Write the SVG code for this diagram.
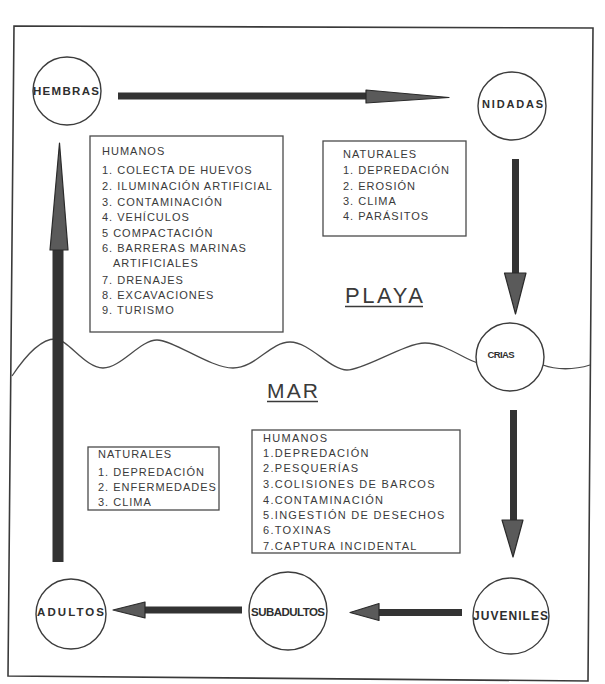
<svg xmlns="http://www.w3.org/2000/svg" width="605" height="684" viewBox="0 0 605 684">
<style>
.frame{fill:none;stroke:#3a3a3a;stroke-width:1.6}
.box{fill:#fff;stroke:#4a4a4a;stroke-width:1.3}
.node{fill:#fff;stroke:#3c3c3c;stroke-width:1.4}
.wave{fill:none;stroke:#4a4a4a;stroke-width:1.3}
.shaft{fill:#333}
.head{fill:#5a5a5a;stroke:#2a2a2a;stroke-width:1.2;stroke-linejoin:round}
.bt{font-family:"Liberation Sans",Arial,sans-serif;font-size:11px;fill:#3a3a3a;letter-spacing:1px}
.bt2{font-family:"Liberation Sans",Arial,sans-serif;font-size:11px;fill:#3a3a3a;letter-spacing:1.3px}
.nt{font-family:"Liberation Sans",Arial,sans-serif;font-weight:bold;fill:#2e2e2e;text-anchor:middle}
.zone{font-family:"Liberation Sans",Arial,sans-serif;fill:#3a3a3a}
.ul{stroke:#3a3a3a;stroke-width:1.4}
</style>
<rect width="605" height="684" fill="#fff"/>
<polygon class="frame" points="14,26 593,28 588,681 8,676"/>
<g id="wave">
<path class="wave" d="M12,376 C28,352 42,339 55,339 S85,368 103,368 S140,340 157,340 S210,368 233,368 S270,342 290,342 S330,370 347,370 S405,343 425,343 S465,360 478,363"/>
<path class="wave" d="M543,365 C556,370 574,370 590,365"/>
</g>
<g id="labels">
<text class="zone" x="345" y="303" font-size="22" textLength="78" lengthAdjust="spacing">PLAYA</text>
<line class="ul" x1="345" y1="306.5" x2="423" y2="306.5"/>
<text class="zone" x="267" y="398" font-size="21" textLength="51" lengthAdjust="spacing">MAR</text>
<line class="ul" x1="267" y1="401.5" x2="318" y2="401.5"/>
</g>
<g id="connectors">
<g id="c-hembras-nidadas">
<rect class="shaft" x="118" y="92.5" width="250" height="7"/>
<polygon class="head" points="366,90 449,97.5 366,103"/>
</g>
<g id="c-nidadas-crias">
<rect class="shaft" x="512" y="159" width="7" height="116"/>
<polygon class="head" points="504.5,273 526,273 515.5,314"/>
</g>
<g id="c-crias-juveniles">
<rect class="shaft" x="510" y="410" width="7" height="112"/>
<polygon class="head" points="502,520 523,520 513,557"/>
</g>
<g id="c-juveniles-subadultos">
<rect class="shaft" x="377" y="609" width="85" height="7"/>
<polygon class="head" points="379,603.5 379,620.5 350,612.5"/>
</g>
<g id="c-subadultos-adultos">
<rect class="shaft" x="143" y="606.5" width="99" height="7"/>
<polygon class="head" points="145,602 145,618 113,610"/>
</g>
<g id="c-adultos-hembras">
<rect class="shaft" x="52.5" y="245" width="11" height="317"/>
<polygon class="head" points="50,250 68,250 59.5,143"/>
</g>
</g>
<g id="n-hembras">
<circle class="node" cx="67" cy="91" r="34"/>
<text class="nt" x="66" y="95" font-size="11.5" textLength="66" lengthAdjust="spacing">HEMBRAS</text>
</g>
<g id="n-nidadas">
<circle class="node" cx="512" cy="106" r="34"/>
<text class="nt" x="512.5" y="108" font-size="11" textLength="61" lengthAdjust="spacing">NIDADAS</text>
</g>
<g id="n-crias">
<circle class="node" cx="510" cy="357" r="34"/>
<text class="nt" x="501" y="358" font-size="9.5" font-weight="normal" textLength="27" lengthAdjust="spacing">CRIAS</text>
</g>
<g id="n-juveniles">
<circle class="node" cx="511" cy="616" r="38"/>
<text class="nt" x="510.5" y="620" font-size="12" textLength="75" lengthAdjust="spacing">JUVENILES</text>
</g>
<g id="n-subadultos">
<circle class="node" cx="288" cy="611" r="39"/>
<text class="nt" x="288" y="616" font-size="11.5" textLength="74" lengthAdjust="spacing">SUBADULTOS</text>
</g>
<g id="n-adultos">
<circle class="node" cx="71" cy="614" r="35"/>
<text class="nt" x="70.5" y="616" font-size="11.5" textLength="67" lengthAdjust="spacing">ADULTOS</text>
</g>
<g id="box-humanos-playa">
<rect class="box" x="90" y="136" width="193" height="196"/>
<text class="bt" x="102" y="155">HUMANOS</text>
<text class="bt" x="102" y="174">1. COLECTA DE HUEVOS</text>
<text class="bt" x="102" y="190">2. ILUMINACIÓN ARTIFICIAL</text>
<text class="bt" x="102" y="206">3. CONTAMINACIÓN</text>
<text class="bt" x="102" y="221">4. VEHÍCULOS</text>
<text class="bt" x="102" y="237">5 COMPACTACIÓN</text>
<text class="bt" x="102" y="252">6. BARRERAS MARINAS</text>
<text class="bt" x="113" y="267">ARTIFICIALES</text>
<text class="bt" x="102" y="284">7. DRENAJES</text>
<text class="bt" x="102" y="299">8. EXCAVACIONES</text>
<text class="bt" x="102" y="314">9. TURISMO</text>
</g>
<g id="box-naturales-playa">
<rect class="box" x="323" y="141" width="143" height="95"/>
<text class="bt" x="343" y="158">NATURALES</text>
<text class="bt" x="343" y="174">1. DEPREDACIÓN</text>
<text class="bt" x="343" y="190">2. EROSIÓN</text>
<text class="bt" x="343" y="205">3. CLIMA</text>
<text class="bt" x="343" y="220">4. PARÁSITOS</text>
</g>
<g id="box-naturales-mar">
<rect class="box" x="88" y="447" width="131" height="63"/>
<text class="bt" x="98" y="458">NATURALES</text>
<text class="bt" x="98" y="476">1. DEPREDACIÓN</text>
<text class="bt" x="98" y="491">2. ENFERMEDADES</text>
<text class="bt" x="98" y="506">3. CLIMA</text>
</g>
<g id="box-humanos-mar">
<rect class="box" x="252" y="430" width="208" height="123"/>
<text class="bt2" x="263" y="442">HUMANOS</text>
<text class="bt2" x="263" y="457">1.DEPREDACIÓN</text>
<text class="bt2" x="263" y="472">2.PESQUERÍAS</text>
<text class="bt2" x="263" y="488">3.COLISIONES DE BARCOS</text>
<text class="bt2" x="263" y="504">4.CONTAMINACIÓN</text>
<text class="bt2" x="263" y="519">5.INGESTIÓN DE DESECHOS</text>
<text class="bt2" x="263" y="534">6.TOXINAS</text>
<text class="bt2" x="263" y="550">7.CAPTURA INCIDENTAL</text>
</g>
</svg>
